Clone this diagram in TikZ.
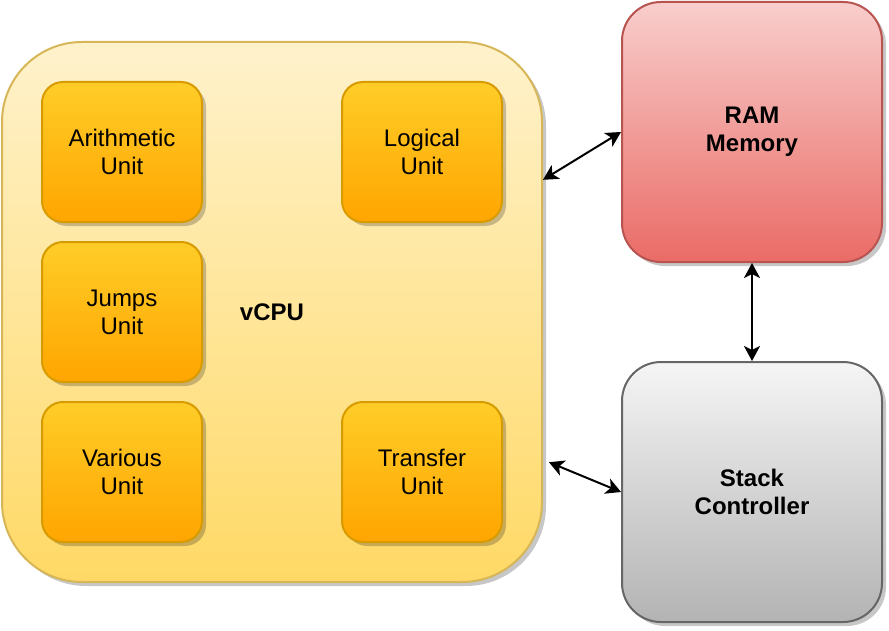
\documentclass[tikz,border=0pt]{standalone}
\usepackage{fontspec}
\setmainfont{Liberation Sans}
\usetikzlibrary{arrows.meta,shadows}

\definecolor{cpuTop}{HTML}{FFF2CC}
\definecolor{cpuBottom}{HTML}{FFD966}
\definecolor{cpuLine}{HTML}{D6B656}
\definecolor{unitTop}{HTML}{FFCD28}
\definecolor{unitBottom}{HTML}{FFA500}
\definecolor{unitLine}{HTML}{D79B00}
\definecolor{ramTop}{HTML}{F8CECC}
\definecolor{ramBottom}{HTML}{EA6B66}
\definecolor{ramLine}{HTML}{B85450}
\definecolor{stackTop}{HTML}{F5F5F5}
\definecolor{stackBottom}{HTML}{B3B3B3}
\definecolor{stackLine}{HTML}{666666}

\tikzset{
    box/.style={draw, line width=1pt, inner sep=0pt, align=center,
        font=\fontsize{12}{14}\selectfont,
        drop shadow={shadow xshift=2pt, shadow yshift=-2pt, opacity=0.22, fill=black}},
    cpubox/.style={box, minimum width=270pt, minimum height=270pt,
        rounded corners=40pt, draw=cpuLine, top color=cpuTop, bottom color=cpuBottom,
        font=\fontsize{12}{14}\selectfont\bfseries},
    unitbox/.style={box, minimum width=80pt, minimum height=70pt,
        rounded corners=10.5pt, draw=unitLine, top color=unitTop, bottom color=unitBottom},
    bigbox/.style={box, minimum width=130pt, minimum height=130pt,
        rounded corners=19.5pt, font=\fontsize{12}{14}\selectfont\bfseries},
    link/.style={{Stealth[length=7.5pt,width=8pt,inset=2pt]}-{Stealth[length=7.5pt,width=8pt,inset=2pt]}, line width=1pt}
}

\begin{document}
\begin{tikzpicture}[x=0.5pt, y=-0.5pt]
    \useasboundingbox (0,0) rectangle (889,631);

    % the vCPU and its units
    \node[cpubox] (cpu) at (272,312) {vCPU};

    \node[unitbox] (arith) at (122,152) {Arithmetic\\Unit};
    \node[unitbox] (logic) at (422,152) {Logical\\Unit};
    \node[unitbox] (jumps) at (122,312) {Jumps\\Unit};
    \node[unitbox] (various) at (122,472) {Various\\Unit};
    \node[unitbox] (transfer) at (422,472) {Transfer\\Unit};

    % memory and stack
    \node[bigbox, draw=ramLine, top color=ramTop, bottom color=ramBottom]
        (ram) at (752,132) {RAM\\Memory};
    \node[bigbox, draw=stackLine, top color=stackTop, bottom color=stackBottom]
        (stack) at (752,492) {Stack\\Controller};

    % links
    \draw[link] (cpu.26.57) -- (ram.west);
    \draw[link] ([xshift=3pt]cpu.-29.05) -- (stack.west);
    \draw[link] (ram.south) -- (stack.north);
\end{tikzpicture}
\end{document}
